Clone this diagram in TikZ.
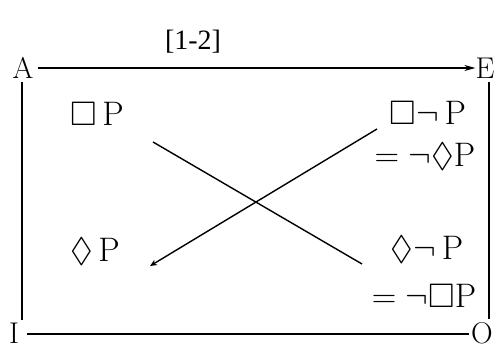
\RequirePackage{fix-cm}
\documentclass[tikz,border=0pt]{standalone}
\usepackage{amssymb}
\usepackage{fontspec}
\newfontfamily\titlefont{Liberation Serif}
\usetikzlibrary{arrows.meta}
\begin{document}
\begin{tikzpicture}[x=1pt,y=-1pt,
  lbl/.style={inner sep=0pt,font=\fontsize{34}{36}\selectfont},
  corner/.style={inner sep=0pt,font=\fontsize{30}{32}\selectfont},
  frame/.style={line width=1.2pt},
  cross/.style={line width=1.4pt}]
\useasboundingbox (0,0) rectangle (496,352);
\node[inner sep=0pt,font=\titlefont\fontsize{28}{30}\selectfont] (title) at (193,42) {[1-2]};
\node[corner] (A) at (23,68) {A};
\node[corner] (E) at (485,68) {E};
\node[corner,anchor=base] (I) at (14,344) {I};
\node[corner,anchor=base] (O) at (482,344) {O};
\coordinate (Atop) at (22,82);
\coordinate (Ibot) at (22,320);
\coordinate (Etop) at (489,82);
\coordinate (Obot) at (489,319);
\coordinate (Iend) at (27,334);
\coordinate (Oend) at (469,334);
\draw[frame,-{Stealth[length=11pt,width=6pt]}] (A.east) ++(4,0) -- (E.west);
\draw[frame] (Atop) -- (Ibot);
\draw[frame] (Etop) -- (Obot);
\draw[frame] (Iend) -- (Oend);
\node[lbl] (bP) at (97,114) {$\square$\,P};
\node[lbl] (dP) at (95,252) {$\Diamond$\,P};
\node[lbl] (bnP) at (428,113) {$\square\neg$\,P};
\node[lbl] (ndP) at (425,157) {$=\neg\Diamond$P};
\node[lbl] (dnP) at (427,250) {$\Diamond\neg$\,P};
\node[lbl] (nbP) at (424,296) {$=\neg\square$P};
\coordinate (c1s) at (153,142);
\coordinate (c1e) at (362,264);
\coordinate (c2s) at (377,129);
\coordinate (c2e) at (150,266);
\draw[cross] (c1s) -- (c1e);
\draw[cross,-{Stealth[length=7pt,width=6pt]}] (c2s) -- (c2e);
\end{tikzpicture}
\end{document}
